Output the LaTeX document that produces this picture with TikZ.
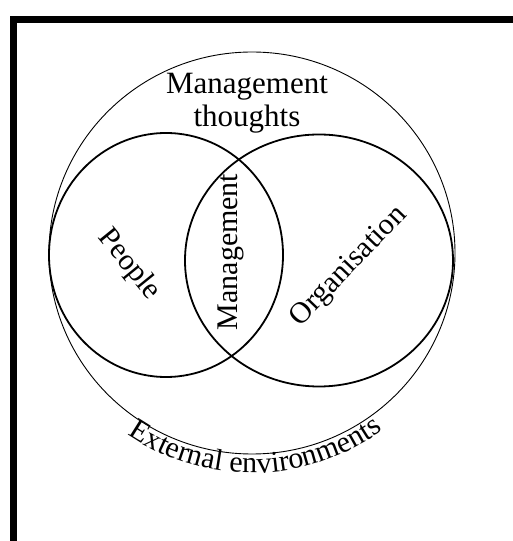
\documentclass[tikz,border=0pt]{standalone}
\usepackage{fontspec}
\setmainfont{Liberation Serif}
\usetikzlibrary{shapes.geometric, decorations.text, calc}

\begin{document}
\begin{tikzpicture}[x=1pt, y=1pt,
    ring/.style={ellipse, draw, inner sep=0pt, line width=0.9pt},
    field/.style={ellipse, draw, inner sep=0pt, line width=1.8pt},
    word/.style={font=\fontsize{30}{33}\selectfont, align=center, inner sep=0pt}
  ]
  \useasboundingbox (0,0) rectangle (512,541);
  % frame
  \draw[line width=7pt] (13,-20) -- (13,521.5) -- (540,521.5);

  \node (environment) [ring, minimum width=406pt, minimum height=402pt] at (252,288) {};
  \node (people) [field, minimum width=234pt, minimum height=244pt] at (166,286) {};
  \node (organisation) [field, minimum width=268pt, minimum height=252pt] at (319,280.5) {};

  \node (thoughts) [word, font=\fontsize{31}{33}\selectfont] at (247,438) {Management\\thoughts};
  \node (peoplelabel) [word, rotate=-51] at (129,276) {People};
  \node (management) [word, rotate=90] at (231,289) {Management};
  \node (orglabel) [word, rotate=46] at (349,274) {Organisation};

  \coordinate (arcstart) at ($(environment.center)+(234:220pt)$);
  \path[decorate, decoration={text along path, text align=center,
      text={|\fontsize{30}{30}\selectfont|External environments}}]
    (arcstart) arc[start angle=234, end angle=308, radius=220pt];
\end{tikzpicture}
\end{document}
